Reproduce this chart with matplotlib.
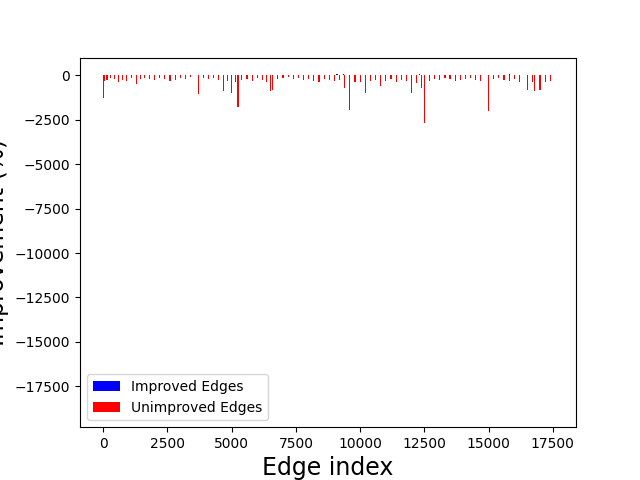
import matplotlib
matplotlib.use('Agg')
import matplotlib.pyplot as plt

# edges whose value got worse (red) - index and improvement (%)
unimp_idx = [0, 60, 150, 300, 450, 600, 750, 900, 1100, 1300, 1450, 1600, 1800, 2000,
             2200, 2400, 2600, 2800, 3000, 3200, 3400, 3700, 3900, 4100, 4300, 4500,
             4700, 4850, 5000, 5150, 5250, 5400, 5600, 5800, 6000, 6200, 6350, 6500,
             6600, 6800, 7000, 7200, 7400, 7600, 7800, 8000, 8200, 8400, 8600, 8800,
             9000, 9200, 9400, 9600, 9800, 10000, 10200, 10400, 10600, 10800, 11000,
             11200, 11400, 11600, 11800, 12000, 12200, 12400, 12500, 12700, 12900,
             13100, 13300, 13500, 13700, 13900, 14100, 14300, 14500, 14700, 15000,
             15200, 15400, 15600, 15800, 16000, 16200, 16500, 16700, 16800, 17000,
             17200, 17400]
unimp_val = [-1300, -300, -250, -150, -200, -400, -250, -300, -150, -500, -200, -150,
             -200, -250, -150, -200, -300, -250, -150, -200, -100, -1050, -150, -200,
             -150, -250, -900, -300, -1000, -400, -1800, -250, -200, -300, -150, -250,
             -400, -900, -800, -200, -150, -100, -200, -150, -250, -200, -300, -400,
             -200, -250, -300, -250, -700, -1950, -400, -350, -1000, -300, -250, -600,
             -300, -200, -400, -250, -300, -1000, -450, -700, -2700, -300, -200, -250,
             -150, -200, -300, -250, -200, -150, -250, -300, -2000, -200, -150, -250,
             -300, -200, -350, -800, -400, -900, -800, -350, -300]

# edges that improved (blue)
imp_idx = [7300, 8300, 9100, 9350, 11900, 12300, 13600, 15500, 15800]
imp_val = [40, 30, 50, 60, 40, 50, 30, 40, 60]

fig, ax = plt.subplots(figsize=(6.4, 4.8), dpi=100)
ax.bar(imp_idx, imp_val, width=45, color='blue', linewidth=0, label='Improved Edges')
ax.bar(unimp_idx, unimp_val, width=45, color='red', linewidth=0, label='Unimproved Edges')
ax.set_xlim(-900, 18400)
ax.set_ylim(-19800, 1000)
ax.set_xlabel('Edge index', fontsize=17)
ax.set_ylabel('Improvement (%)', fontsize=17)
ax.legend(loc='lower left')
fig.savefig('out.png')
